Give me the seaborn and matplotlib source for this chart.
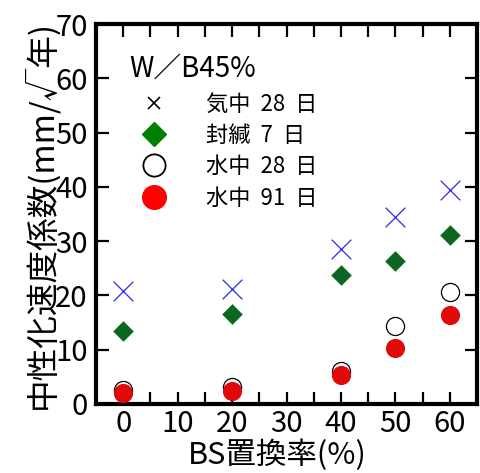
import numpy as np
import pandas as pd
import matplotlib
matplotlib.use('Agg')
import matplotlib.pyplot as plt
import seaborn as sns
from matplotlib.lines import Line2D

# BS replacement ratio (%)
bs_ratio = [0, 20, 40, 50, 60]
# carbonation rate coefficient (mm/sqrt(year))
air_28 = [20.9, 21.2, 28.6, 34.4, 39.4]
sealed_7 = [13.4, 16.5, 23.8, 26.3, 31.2]
water_28 = [2.6, 3.1, 6.1, 14.3, 20.6]
water_91 = [2.0, 2.3, 5.3, 10.4, 16.3]

labels = ['気中  28  日', '封緘  7  日', '水中  28  日', '水中  91  日']
legend_title = 'W／B45%'
x_label = 'BS置換率(%)'
y_label = '中性化速度係数(mm/√年)'

sns.set_style('ticks', {'axes.edgecolor': 'black', 'text.color': 'black',
                        'xtick.color': 'black', 'ytick.color': 'black',
                        'axes.labelcolor': 'black'})
plt.rcParams['font.family'] = ['Noto Sans CJK JP', 'DejaVu Sans']

fig = plt.figure(figsize=(4.8, 4.73), dpi=100)
ax = fig.add_axes([0.2, 0.146, 0.794, 0.803])

df = pd.DataFrame({'x': bs_ratio, 'air': air_28, 'sealed': sealed_7,
                   'w28': water_28, 'w91': water_91})

sns.scatterplot(data=df, x='x', y='air', marker='x', color='#2b2be6', s=200,
                linewidth=0.9, ax=ax, zorder=3)
sns.scatterplot(data=df, x='x', y='sealed', marker='D', color='#0a6621', s=110,
                linewidth=0, ax=ax, zorder=3)
sns.scatterplot(data=df, x='x', y='w28', marker='o', facecolor='white', edgecolor='black',
                s=170, linewidth=0.9, ax=ax, zorder=3)
sns.scatterplot(data=df, x='x', y='w91', marker='o', color='#e00a0a', s=190,
                linewidth=0, ax=ax, zorder=4)

ax.set_xlim(-5, 65)
ax.set_ylim(0, 70)
ax.set_xticks(range(0, 61, 10))
ax.set_xticks(range(5, 66, 10), minor=True)
ax.set_yticks(range(0, 71, 10))

for side in ['left', 'right', 'top', 'bottom']:
    ax.spines[side].set_linewidth(3)
ax.tick_params(axis='both', which='both', direction='in', length=9, width=1.6,
               top=True, right=True, labelsize=21, pad=6)
ax.tick_params(axis='x', which='major', pad=4)

ax.set_xlabel(x_label, fontsize=22, labelpad=0, x=0.475)
ax.set_ylabel(y_label, fontsize=23.5, labelpad=-2)

handles = [
    Line2D([], [], ls='none', marker='x', color='black', markersize=9, markeredgewidth=1.2),
    Line2D([], [], ls='none', marker='D', color='#008000', markersize=12),
    Line2D([], [], ls='none', marker='o', markerfacecolor='white', markeredgecolor='black',
           markersize=16, markeredgewidth=1.3),
    Line2D([], [], ls='none', marker='o', color='#ff0000', markersize=17),
]
leg = ax.legend(handles, labels, title=legend_title, loc='upper left',
                bbox_to_anchor=(0.065, 0.945), frameon=False, fontsize=16,
                title_fontsize=20, handletextpad=1.25, labelspacing=0.38,
                borderaxespad=0, handlelength=2.2)
leg._legend_box.align = 'left'

fig.savefig('out.png', dpi=100)
